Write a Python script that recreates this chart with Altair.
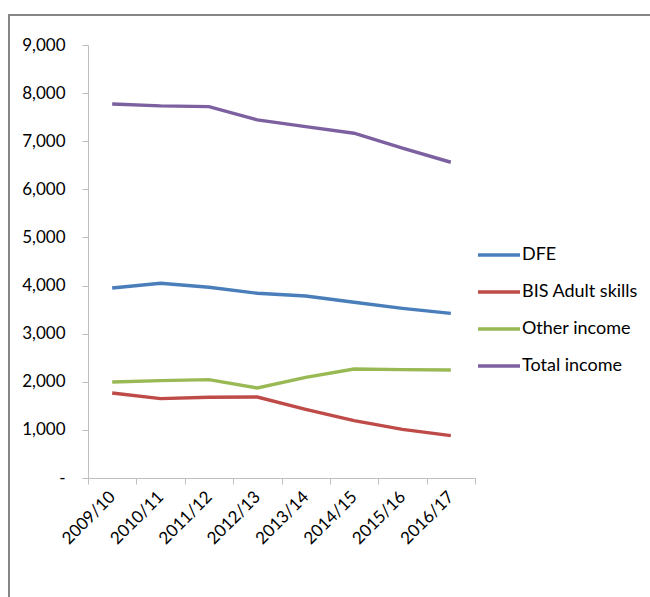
import altair as alt
import pandas as pd

years = ["2009/10", "2010/11", "2011/12", "2012/13", "2013/14", "2014/15", "2015/16", "2016/17"]
dfe = [3950, 4048, 3964, 3840, 3784, 3652, 3527, 3423]
bis = [1767, 1649, 1677, 1684, 1428, 1191, 1012, 880]
other = [1996, 2023, 2044, 1871, 2093, 2266, 2252, 2245]
total = [7775, 7734, 7720, 7443, 7304, 7166, 6854, 6563]

series_names = ["DFE", "BIS Adult skills", "Other income", "Total income"]
series_colors = ["#4A7EBB", "#BE4B48", "#98B954", "#7D60A0"]

rows = []
for name, vals in zip(series_names, [dfe, bis, other, total]):
    for y, v in zip(years, vals):
        rows.append({"year": y, "series": name, "value": v})
df = pd.DataFrame(rows)

FONT = "Lato"
AXIS_GRAY = "#BFBFBF"

lines = alt.Chart(df).mark_line(strokeWidth=3.4).encode(
    x=alt.X("year:N", sort=years, bandPosition=0.5,
            scale=alt.Scale(type="band", paddingInner=0, paddingOuter=0),
            axis=alt.Axis(title=None, tickBand="extent", labelAngle=-45,
                          labelAlign="right", labelBaseline="middle",
                          labelPadding=10, tickSize=6, domainColor=AXIS_GRAY,
                          tickColor=AXIS_GRAY, labelColor="#000000",
                          labelFontSize=17, labelFont=FONT, grid=False)),
    y=alt.Y("value:Q", scale=alt.Scale(domain=[0, 9000], nice=False),
            axis=alt.Axis(title=None, values=list(range(0, 9001, 1000)),
                          labelExpr="datum.value == 0 ? '-' : format(datum.value, ',')",
                          tickSize=6, labelPadding=17, domainColor=AXIS_GRAY,
                          tickColor=AXIS_GRAY, labelColor="#000000",
                          labelFontSize=17, labelFont=FONT, grid=False)),
    color=alt.Color("series:N",
                    scale=alt.Scale(domain=series_names, range=series_colors),
                    legend=alt.Legend(title=None, orient="none", legendX=388, legendY=187,
                                      symbolType="stroke", symbolSize=1764,
                                      symbolStrokeWidth=3.4, labelFontSize=18,
                                      labelFont=FONT, labelColor="#000000",
                                      rowPadding=5, labelOffset=0)),
)

border = alt.Chart(pd.DataFrame({"a": [0]})).mark_rect(
    fill=None, stroke="#868686", strokeWidth=2
).encode(
    x=alt.value(-79), x2=alt.value(700), y=alt.value(-30), y2=alt.value(700)
)

chart = alt.layer(border, lines).properties(
    width=387, height=433,
    autosize=alt.AutoSizeParams(type="none"),
    padding={"left": 88, "top": 45, "right": 175, "bottom": 119},
    background="white",
).configure_view(stroke=None)

chart.save("out.html", embed_options={"renderer": "svg", "actions": False})
